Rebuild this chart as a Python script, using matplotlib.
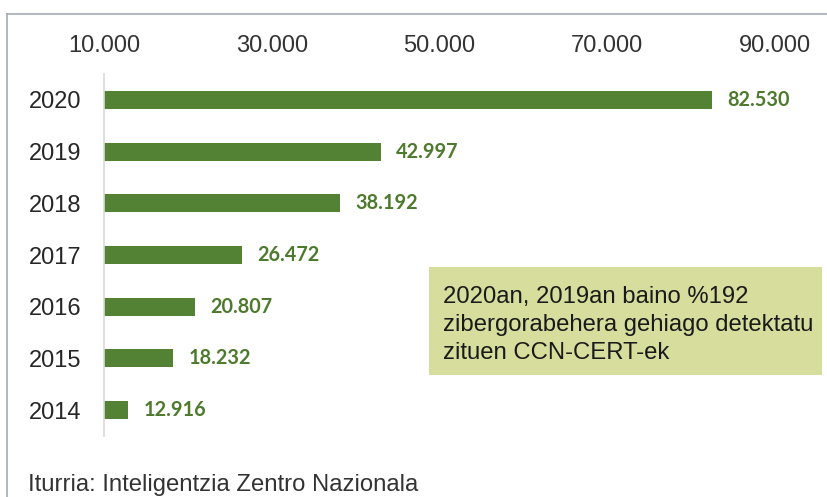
import matplotlib
matplotlib.use("Agg")
import matplotlib.pyplot as plt
from matplotlib.patches import Rectangle
from matplotlib.lines import Line2D

years = ["2014", "2015", "2016", "2017", "2018", "2019", "2020"]
values = [12916, 18232, 20807, 26472, 38192, 42997, 82530]
value_labels = ["12.916", "18.232", "20.807", "26.472", "38.192", "42.997", "82.530"]
xticks = [10000, 30000, 50000, 70000, 90000]
xtick_labels = ["10.000", "30.000", "50.000", "70.000", "90.000"]
note = "2020an, 2019an baino %192\nzibergorabehera gehiago detektatu\nzituen CCN-CERT-ek"
source = "Iturria: Inteligentzia Zentro Nazionala"

W, H = 827, 497
fig = plt.figure(figsize=(W / 100, H / 100), dpi=100)
plt.rcParams['font.family'] = ['Liberation Sans', 'DejaVu Sans']

def fx(px):
    return px / W

def fy(py):
    return 1 - py / H

# frame lines
fig.add_artist(Line2D([fx(7), 1.0], [fy(14), fy(14)], color="#a3abb8", lw=1.2, transform=fig.transFigure))
fig.add_artist(Line2D([fx(7), fx(7)], [fy(14), 0.0], color="#a3abb8", lw=1.2, transform=fig.transFigure))

ax = fig.add_axes([fx(104), fy(436), (775 - 104) / W, (436 - 74) / H])
ypos = list(range(len(years)))
base = 10000
ax.barh(ypos, [v - base for v in values], left=base, height=0.35, color="#548235")
ax.set_xlim(10000, 90000)
ax.set_ylim(-0.5, len(years) - 0.5)
ax.set_yticks(ypos)
ax.set_yticklabels(years)
ax.xaxis.tick_top()
ax.set_xticks(xticks)
ax.set_xticklabels(xtick_labels)
ax.tick_params(axis="x", length=0, pad=12, labelsize=17, labelcolor="#333333")
ax.tick_params(axis="y", length=0, pad=16, labelsize=17, labelcolor="#262626")
for s in ["top", "right", "bottom"]:
    ax.spines[s].set_visible(False)
ax.spines["left"].set_color("#d9d9d9")
ax.spines["left"].set_linewidth(1.2)

for y, v, lab in zip(ypos, values, value_labels):
    ax.annotate(lab, xy=(v, y), xytext=(11, 0), textcoords="offset points",
                ha="left", va="center", fontsize=14.3, fontweight="bold",
                color="#4e7a2e", family=["Lato", "DejaVu Sans"])

# note box
fig.add_artist(Rectangle((fx(429), fy(375)), (822 - 429) / W, (375 - 267) / H,
                         transform=fig.transFigure, facecolor="#d7dd9c", edgecolor="none"))
fig.text(fx(443), fy(325), note, ha="left", va="center", fontsize=17.2,
         color="#1a1a1a", linespacing=1.33)

fig.text(fx(28), fy(485), source, ha="left", va="center", fontsize=17.2, color="#333333")

fig.savefig("out.png", dpi=100)
